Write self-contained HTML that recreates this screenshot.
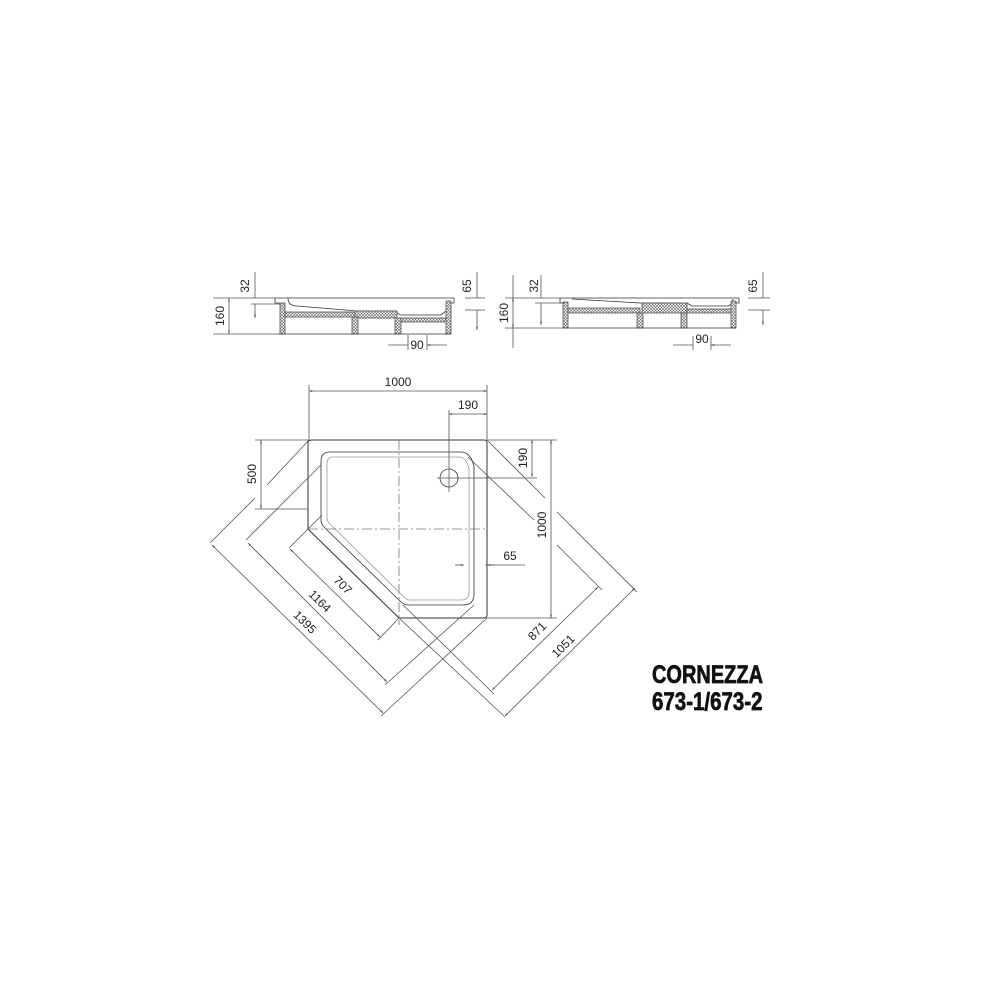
<!DOCTYPE html>
<html><head><meta charset="utf-8"><style>
html,body{margin:0;padding:0;background:#fff;}
svg{display:block}
text{font-family:"Liberation Sans",sans-serif;fill:#222;}
</style></head><body>
<svg width="1000" height="1000" viewBox="0 0 1000 1000" xmlns="http://www.w3.org/2000/svg">
<defs>
<pattern id="h" width="3" height="3" patternUnits="userSpaceOnUse">
<rect width="3" height="3" fill="#fff"/>
<path d="M0 0L3 3M3 0L0 3" stroke="#666" stroke-width="0.6"/>
</pattern>
<marker id="a" viewBox="0 0 10 10" refX="10" refY="5" markerWidth="6" markerHeight="4" orient="auto-start-reverse"><path d="M0 2L10 5L0 8z" fill="#555"/></marker>
</defs>
<g stroke="#555" stroke-width="0.8" fill="none">
<!-- LEFT SECTION -->
<path d="M275 298H454M275 298V303H280M454 298V303H451" stroke="#333"/>
<path d="M288 298Q288 306 297 306L357 311H395L400 315H440Q448 312 448 303" stroke="#333"/>
<rect x="280" y="303" width="5" height="31" fill="url(#h)"/>
<rect x="446" y="301" width="5" height="33" fill="url(#h)"/>
<rect x="285" y="312" width="70" height="5" fill="url(#h)"/>
<rect x="355" y="311" width="42" height="7" fill="url(#h)"/>
<rect x="400" y="318" width="46" height="4" fill="url(#h)"/>
<rect x="352" y="317" width="6" height="17" fill="url(#h)"/>
<rect x="395" y="318" width="6" height="16" fill="url(#h)"/>
<path d="M278 334H451" stroke="#333"/>
<path d="M213 298H275M213 334H280M251 304H280M465 298H485M465 310H485"/>
<path d="M229 298V334" marker-start="url(#a)" marker-end="url(#a)"/>
<path d="M255 272V298M255 304V318" marker-end="url(#a)"/>
<path d="M477 272V298M477 310V330" marker-end="url(#a)"/>
<path d="M408 335V350M427 335V350"/>
<path d="M388 345H408M447 345H427" marker-end="url(#a)"/>
<!-- RIGHT SECTION -->
<path d="M560 298H739M560 298V303H565M739 298V303H736" stroke="#333"/>
<path d="M572 299L640 303H687L692 306H728Q733 304 733 299" stroke="#333"/>
<rect x="563" y="302" width="5" height="26" fill="url(#h)"/>
<rect x="731" y="301" width="5" height="27" fill="url(#h)"/>
<rect x="568" y="308" width="72" height="5" fill="url(#h)"/>
<rect x="642" y="303" width="45" height="10" fill="url(#h)"/>
<rect x="687" y="309" width="44" height="4" fill="url(#h)"/>
<rect x="637" y="313" width="6" height="15" fill="url(#h)"/>
<rect x="681" y="313" width="6" height="15" fill="url(#h)"/>
<path d="M563 328H736" stroke="#333"/>
<path d="M505 298H560M505 328H565M535 303H565M748 298H770M748 310H770"/>
<path d="M513 298V328" marker-start="url(#a)" marker-end="url(#a)"/>
<path d="M513 275V298M513 328V348"/>
<path d="M541 275V298M541 303V325" marker-end="url(#a)"/>
<path d="M763 272V298M763 310V325" marker-end="url(#a)"/>
<path d="M693 336V350M711 336V350"/>
<path d="M673 345H693M731 345H711" marker-end="url(#a)"/>
<!-- PLAN -->
<path d="M312 440H484Q487 440 487 443V615Q487 618 484 618H399L308 529V443Q308 440 312 440Z" stroke="#333" stroke-width="1"/>
<path d="M330 452H461Q468 452 472 460L474 466V594Q474 605 463 605H408Q404 605 400 601L324 527Q321 524 321 520V461Q321 452 330 452Z" stroke="#333"/>
<path d="M333 457H459Q464 457 467 463L469 468V592Q469 600 461 600H410Q407 600 404 597L330 524Q327 521 327 518V464Q327 457 333 457Z" stroke="#999"/>
<circle cx="449" cy="478" r="9" stroke="#333"/>
<path d="M399 440V625M308 529H487" stroke="#777" stroke-dasharray="10 3 2 3"/>
<!-- dims top -->
<path d="M309 385V440M487 385V440M449 410V492M437 478H537"/>
<path d="M309 391H487" marker-start="url(#a)" marker-end="url(#a)"/>
<path d="M449 414H487" marker-start="url(#a)" marker-end="url(#a)"/>
<path d="M255 440H309M255 509H308M487 440H557M487 618H557"/>
<path d="M261 440V509" marker-start="url(#a)" marker-end="url(#a)"/>
<path d="M551 440V618" marker-start="url(#a)" marker-end="url(#a)"/>
<path d="M532 440V477" marker-start="url(#a)" marker-end="url(#a)"/>
<path d="M485 565H525"/>
<path d="M455 565H464" marker-end="url(#a)"/><path d="M495 565H487" marker-end="url(#a)"/>
<!-- diagonal dims left -->
<path d="M210 543L255 498M309 440L267 485M246 540L321 465M289 548L322 515"/>
<path d="M212 545L383 713" marker-start="url(#a)" marker-end="url(#a)"/>
<path d="M248 543L387 682" marker-start="url(#a)" marker-end="url(#a)"/>
<path d="M290 549L380 637" marker-start="url(#a)" marker-end="url(#a)"/>
<path d="M378 640L399 618M385 685L474 605M381 716L487 618"/>
<!-- diagonal dims right -->
<path d="M487 440L545 498M468 457L534 520M557 512L637 592M557 545L602 590M399 618L505 717M403 605L494 694"/>
<path d="M492 690L598 587" marker-start="url(#a)" marker-end="url(#a)"/>
<path d="M505 716L635 588" marker-start="url(#a)" marker-end="url(#a)"/>
</g>
<g font-size="12">
<text x="398" y="386" text-anchor="middle">1000</text>
<text x="468" y="409" text-anchor="middle">190</text>
<text x="510" y="560" text-anchor="middle">65</text>
<text transform="translate(256,474) rotate(-90)" text-anchor="middle">500</text>
<text transform="translate(546,525) rotate(-90)" text-anchor="middle">1000</text>
<text transform="translate(527,458) rotate(-90)" text-anchor="middle">190</text>
<text transform="translate(340,588) rotate(45)" text-anchor="middle">707</text>
<text transform="translate(317,604) rotate(45)" text-anchor="middle">1164</text>
<text transform="translate(302,625) rotate(45)" text-anchor="middle">1395</text>
<text transform="translate(540,634) rotate(-45)" text-anchor="middle">871</text>
<text transform="translate(566,649) rotate(-45)" text-anchor="middle">1051</text>
<text transform="translate(249,286) rotate(-90)" text-anchor="middle">32</text>
<text transform="translate(224,316) rotate(-90)" text-anchor="middle">160</text>
<text transform="translate(471,286) rotate(-90)" text-anchor="middle">65</text>
<text x="417" y="349" text-anchor="middle">90</text>
<text transform="translate(538,286) rotate(-90)" text-anchor="middle">32</text>
<text transform="translate(508,313) rotate(-90)" text-anchor="middle">160</text>
<text transform="translate(757,286) rotate(-90)" text-anchor="middle">65</text>
<text x="702" y="343" text-anchor="middle">90</text>
</g>
<g font-weight="bold" font-size="25" style="stroke:#111;stroke-width:0.7">
<text transform="translate(652,683) scale(0.8,1)" style="fill:#111">CORNEZZA</text>
<text transform="translate(652,710) scale(0.82,1)" style="fill:#111">673-1/673-2</text>
</g>
</svg>
</body></html>
